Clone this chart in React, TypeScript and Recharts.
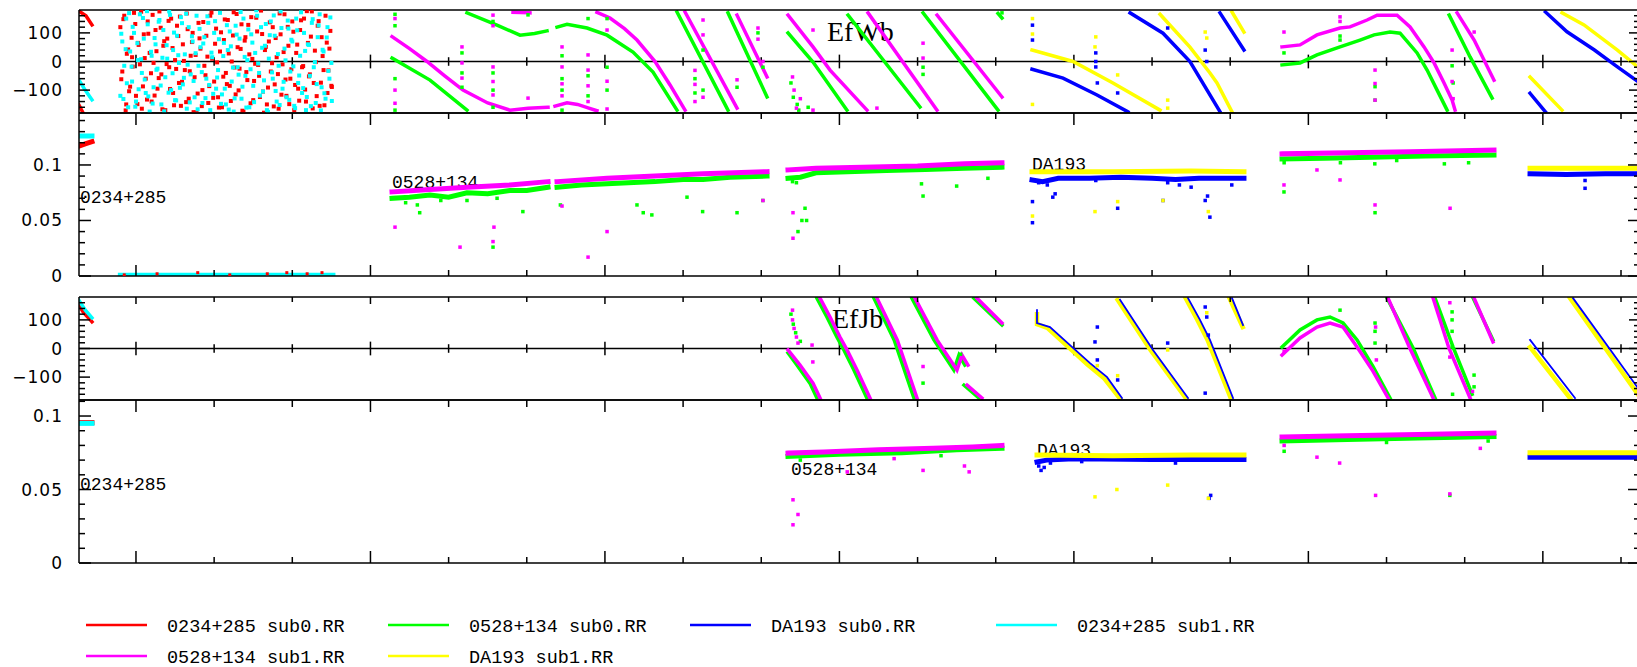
import React from "react";
import { ComposedChart, Line, Scatter, XAxis, YAxis, ReferenceLine } from "recharts";

type Pt = [number, number];
type Seg = Pt[];

// ---------- series names / colours ----------
const seriesNames = [
  "0234+285 sub0.RR",
  "0528+134 sub0.RR",
  "DA193 sub0.RR",
  "0234+285 sub1.RR",
  "0528+134 sub1.RR",
  "DA193 sub1.RR",
];
const RED = "#ff0000";
const GREEN = "#00ff00";
const BLUE = "#0000ff";
const CYAN = "#00ffff";
const MAGENTA = "#ff00ff";
const YELLOW = "#ffff00";
const seriesColors = [RED, GREEN, BLUE, CYAN, MAGENTA, YELLOW];

// ---------- axes ----------
const xDomain: [number, number] = [0.271, 20.243];
const xTicks = [1, 2, 3, 4, 5, 6, 7, 8, 9, 10, 11, 12, 13, 14, 15, 16, 17, 18, 19, 20];
const xMajorTicks = [1, 4, 7, 10, 13, 16, 19];
const phaseTicks = [-160, -140, -120, -100, -80, -60, -40, -20, 0, 20, 40, 60, 80, 100, 120, 140, 160];
const phaseLabels: Record<string, string> = { "100": "100", "0": "0", "-100": "\u2212100" };
const ampTicksWb = [0, 0.01, 0.02, 0.03, 0.04, 0.05, 0.06, 0.07, 0.08, 0.09, 0.1, 0.11, 0.12, 0.13, 0.14];
const ampTicksJb = [0, 0.01, 0.02, 0.03, 0.04, 0.05, 0.06, 0.07, 0.08, 0.09, 0.1, 0.11];
const ampLabels: Record<string, string> = { "0": "0", "0.05": "0.05", "0.1": "0.1" };

// ---------- 0234+285 noisy scan (EfWb) ----------
const noiseTimes = [
  0.8, 0.825, 0.85, 0.875, 0.9, 0.925, 0.95, 0.975, 1, 1.025,
  1.05, 1.075, 1.1, 1.125, 1.15, 1.175, 1.2, 1.225, 1.25, 1.275,
  1.3, 1.325, 1.35, 1.375, 1.4, 1.425, 1.45, 1.475, 1.5, 1.525,
  1.55, 1.575, 1.6, 1.625, 1.65, 1.675, 1.7, 1.725, 1.75, 1.775,
  1.8, 1.825, 1.85, 1.875, 1.9, 1.925, 1.95, 1.975, 2, 2.025,
  2.05, 2.075, 2.1, 2.125, 2.15, 2.175, 2.2, 2.225, 2.25, 2.275,
  2.3, 2.325, 2.35, 2.375, 2.4, 2.425, 2.45, 2.475, 2.5, 2.525,
  2.55, 2.575, 2.6, 2.625, 2.65, 2.675, 2.7, 2.725, 2.75, 2.775,
  2.8, 2.825, 2.85, 2.875, 2.9, 2.925, 2.95, 2.975, 3, 3.025,
  3.05, 3.075, 3.1, 3.125, 3.15, 3.175, 3.2, 3.225, 3.25, 3.275,
  3.3, 3.325, 3.35, 3.375, 3.4, 3.425, 3.45, 3.475, 3.5,
];
const noiseRedPhase = [
  120, -35, 160, -150, 42, -88, 15, 170, -120, 65,
  -10, -165, 95, -60, 140, 30, -140, -5, 110, -95,
  175, -45, 55, -170, 80, -20, 150, -110, 5, 125,
  -75, -155, 60, -30, 168, -130, 20, 100, -55, -178,
  135, 45, -100, -15, 90, -145, 160, 10, -70, 115,
  -125, 35, -160, 75, -40, 145, -85, 0, 172, -115,
  50, -25, 130, -175, 85, -65, 25, 155, -135, -8,
  105, -50, 178, -105, 40, -150, 70, -35, 120, -80,
  15, -165, 95, -10, 165, -120, 55, -60, 140, -170,
  30, -95, 110, -20, 150, -140, 65, -45, 175, -75,
  -2, 125, -155, 85, -30, 160, -110, 45, -85,
];
const noiseCyanPhase = [
  -120, 70, -15, 150, -160, 35, -70, 100, -140, 5,
  165, -40, 80, -110, 130, -175, 20, -90, 60, -25,
  145, -150, 110, -55, 10, 175, -100, 40, -135, 90,
  -5, 155, -80, 25, -165, 120, -45, 70, -125, 160,
  -15, 50, -145, 85, -60, 135, -170, 15, 100, -95,
  -30, 170, -115, 65, -150, 40, 105, -70, -175, 125,
  -20, 80, -130, 150, -50, 5, -160, 95, -85, 30,
  160, -40, 120, -105, 55, -170, 10, 140, -60, 90,
  -140, -15, 175, -95, 45, -125, 115, -35, 70, -155,
  150, -75, 20, -110, 100, -170, 60, -50, 135, -20,
  -145, 85, 165, -90, 35, -130, 120, -60, -5,
];
const noiseTimes2 = [
  0.812, 0.839, 0.868, 0.883, 0.912, 0.944, 0.958, 0.991, 1.018, 1.034,
  1.066, 1.089, 1.112, 1.141, 1.158, 1.192, 1.213, 1.238, 1.262, 1.291,
  1.316, 1.338, 1.361, 1.392, 1.417, 1.436, 1.468, 1.487, 1.514, 1.541,
  1.562, 1.589, 1.613, 1.642, 1.661, 1.688, 1.716, 1.737, 1.763, 1.789,
  1.813, 1.842, 1.861, 1.889, 1.914, 1.937, 1.966, 1.988, 2.012, 2.038,
  2.061, 2.088, 2.117, 2.136, 2.163, 2.187, 2.214, 2.241, 2.262, 2.288,
  2.313, 2.339, 2.362, 2.391, 2.412, 2.437, 2.466, 2.489, 2.511, 2.539,
  2.563, 2.586, 2.614, 2.638, 2.661, 2.689, 2.712, 2.741, 2.763, 2.787,
  2.816, 2.838, 2.861, 2.889, 2.913, 2.942, 2.961, 2.988, 3.014, 3.036,
  3.063, 3.088, 3.112, 3.139, 3.164, 3.186, 3.213, 3.238, 3.261, 3.289,
  3.312, 3.337, 3.366, 3.388, 3.411, 3.441, 3.462, 3.487, 3.506,
];
const noiseRedPhase2 = [
  -62, 148, -171, 27, -104, 83, -18, 131, -149, 58,
  174, -87, 12, -133, 97, -41, 163, -119, 36, -58,
  118, -167, 71, -9, 142, -96, 47, -153, -26, 89,
  157, -71, 2, -142, 113, -34, 68, -177, 23, -112,
  81, -156, 138, -48, 17, -86, 171, -127, 62, -3,
  -161, 102, -53, 147, -79, 28, -138, 91, -21, 166,
  -101, 44, -172, 73, -37, 128, -146, 9, -68, 153,
  -12, -124, 96, -179, 51, -91, 137, -6, -157, 82,
  -44, 168, -116, 33, -63, 121, -149, -27, 104, -82,
  59, -137, 144, -16, -98, 176, -52, 87, -164, 38,
  -121, 141, -74, 19, -153, 66, -31, 107, -89,
];
const noiseCyanPhase2 = [
  97, -131, 43, -76, 169, -18, 121, -158, 64, -97,
  8, 152, -63, 176, -122, 34, -147, 82, -29, 139,
  -84, 13, -174, 57, -109, 163, -41, 101, -136, 22,
  -92, 134, -57, 167, -11, -143, 88, -68, 29, -167,
  114, -37, 63, -128, 158, -82, 31, -113, 141, -56,
  78, -148, 19, -95, 127, -168, 53, -21, -129, 94,
  -46, 173, -88, 16, -161, 112, -27, 66, -142, 179,
  -7, -119, 48, -66, 131, -176, 92, -38, 161, -103,
  26, -152, 117, -71, 4, 143, -134, 76, -17, -163,
  109, -49, 172, -93, 37, -124, 58, -156, 148, -2,
  -79, 126, -171, 41, -111, 84, -33, 154, -138,
];

// ---------- EfWb phase ----------
const wbRedPhase: Seg[] = [
  [[0.271, -152], [0.322, -179]],
  [[0.271, 176], [0.36, 160], [0.437, 128]],
];
const wbCyanPhase: Seg[] = [[[0.271, -65], [0.35, -100], [0.437, -134]]];
const wbGreenPhase: Seg[] = [
  [[4.276, 12], [4.762, -65], [5.235, -170]],
  [[5.235, 170], [5.619, 127], [5.913, 92], [6.1, 98], [6.259, 107]],
  [[6.387, 120], [6.515, 130], [6.771, 117], [7.027, 92], [7.359, 33], [7.615, -37], [7.922, -170]],
  [[7.922, 173], [8.574, -170]],
  [[8.574, 170], [9.074, -124]],
  [[9.342, 100], [9.662, -2], [10.097, -170]],
  [[10.11, 162], [11.031, -159]],
  [[11.07, 170], [12.029, -170]],
  [[12.029, 168], [12.08, 152]],
  [[15.663, -12], [15.893, -5], [16.11, 23], [16.405, 51], [16.661, 75], [16.841, 93], [17.045, 103], [17.173, 99], [17.391, 30], [17.519, -30], [17.647, -100], [17.775, -170]],
  [[17.801, 162], [18.069, 16], [18.351, -128]],
];
const wbMagentaPhase: Seg[] = [
  [[4.276, 87], [4.5, 45], [4.723, 0], [4.95, -50], [5.184, -100], [5.5, -145], [5.785, -170], [6.016, -163], [6.272, -160]],
  [[5.824, 172], [6.041, 170]],
  [[6.361, -156], [6.515, -144], [6.65, -150], [6.784, -162], [6.898, -172]],
  [[6.898, 172], [7.065, 152], [7.25, 115], [7.41, 75], [7.641, 0], [7.833, -82], [8.025, -170]],
  [[8.025, 173], [8.69, -163]],
  [[8.69, 162], [9.074, -54]],
  [[9.342, 162], [9.662, 51], [9.88, -30], [10.353, -170]],
  [[10.366, 170], [11.249, -170]],
  [[11.249, 162], [12.08, -124]],
  [[15.663, 51], [15.893, 58], [16.11, 93], [16.405, 117], [16.533, 121], [16.751, 145], [16.879, 162], [17.135, 162], [17.301, 121], [17.48, 51], [17.608, -5], [17.736, -75], [17.839, -135], [17.877, -170]],
  [[17.903, 170], [18.121, 75], [18.375, -65]],
];
const wbBluePhase: Seg[] = [
  [[12.464, -27], [12.861, -58], [13.296, -117], [13.692, -176]],
  [[13.718, 170], [14.14, 99], [14.485, 0], [14.869, -175]],
  [[14.869, 170], [15.176, 40]],
  [[18.836, -111], [19.033, -176]],
  [[19.033, 173], [19.309, 104], [19.66, 40], [19.954, -19], [20.243, -75]],
];
const wbYellowPhase: Seg[] = [
  [[12.464, 40], [12.989, 0], [13.5, -75], [14.102, -170]],
  [[14.102, 165], [14.485, 50], [14.741, -40], [14.831, -75], [15.023, -176]],
  [[15.023, 173], [15.176, 103]],
  [[18.836, -54], [19.245, -170]],
  [[19.245, 170], [19.527, 128], [19.954, 40], [20.243, -25]],
];
const wbGreenPhaseOut: Pt[] = [
  [4.314, 165], [4.314, 125], [4.314, -60], [4.314, -170], [5.171, 30], [5.171, -40], [5.171, -90],
  [5.568, 140], [5.568, -40], [5.568, -100], [5.568, -160], [6.016, 163], [6.451, 20], [6.451, -60],
  [6.451, -100], [6.451, -170], [6.784, 150], [6.784, -50], [6.784, -120], [7.027, 150], [7.027, -20],
  [7.027, -100], [8.152, -60], [8.152, -110], [8.255, 40], [8.255, -100], [8.69, -90], [8.958, 100],
  [9.022, -20], [9.38, -75], [9.41, -125], [9.46, -150], [9.48, -170], [9.6, -160], [11.07, -20],
  [11.07, -45], [12.08, 170], [15.688, 30], [16.405, 89], [16.405, 75], [16.853, -88], [16.853, -135],
  [17.839, -15], [17.852, -75],
];
const wbMagentaPhaseOut: Pt[] = [
  [4.314, -100], [4.314, -146], [4.314, 150], [5.171, 51], [5.171, -5], [5.171, -58], [5.568, 162],
  [5.568, 125], [5.568, -19], [5.568, -70], [5.568, -117], [6.016, -128], [6.451, 51], [6.451, -19],
  [6.451, -78], [6.451, -120], [6.784, 23], [6.784, -30], [6.784, -85], [6.784, -140], [7.027, 110],
  [7.027, -69], [7.027, -166], [8.152, -31], [8.152, -80], [8.152, -140], [8.255, 145], [8.255, 93],
  [8.255, -125], [8.69, -64], [8.958, 117], [8.958, 78], [9.022, 0], [9.4, -54], [9.42, -100],
  [9.45, -163], [9.5, -130], [9.662, 110], [9.662, -170], [10.48, -163], [11.07, 64], [11.07, 12],
  [15.688, 103], [16.405, 156], [16.405, 140], [16.853, -30], [16.853, -77], [16.853, -135],
  [17.839, 40], [17.839, -70], [17.852, -130], [18.121, 103],
];
const wbBluePhaseOut: Pt[] = [
  [12.47, 127], [12.47, 75], [13.28, 30], [13.28, 0], [13.28, -19], [13.3, -75], [13.56, -110],
  [14.2, 117], [14.68, 40], [14.7, 0],
];
const wbYellowPhaseOut: Pt[] = [
  [12.47, 150], [12.47, 96], [12.47, -150], [13.27, 51], [13.28, 86], [13.56, -47], [14.2, -135],
  [14.2, -163], [14.68, 103], [14.7, 82],
];

// ---------- EfWb amplitude ----------
const wbRedAmp: Seg[] = [[[0.271, 0.117], [0.35, 0.119], [0.437, 0.121]]];
const wbRedAmpOut: Pt[] = [
  [0.85, 0.001], [1.27, 0.002], [1.79, 0.003], [2.2, 0.001], [2.68, 0.002], [2.93, 0.003], [3.19, 0.002], [3.38, 0.003],
];
const wbCyanAmp: Seg[] = [
  [[0.271, 0.126], [0.437, 0.126]],
  [[0.8, 0.0006], [3.52, 0.0006]],
];
const wbGreenAmp: Seg[] = [
  [[4.276, 0.07], [4.5, 0.071], [4.762, 0.073], [5.0, 0.071], [5.235, 0.075], [5.5, 0.074], [5.785, 0.077], [6.0, 0.077], [6.272, 0.08]],
  [[6.387, 0.08], [6.7, 0.082], [7.027, 0.083], [7.3, 0.084], [7.641, 0.085], [8.0, 0.087], [8.255, 0.087], [8.6, 0.089], [9.074, 0.09]],
  [[9.342, 0.088], [9.5, 0.089], [9.7, 0.093], [10.1, 0.094], [10.6, 0.095], [11.1, 0.096], [11.6, 0.097], [12.08, 0.098]],
  [[15.663, 0.1054], [16.2, 0.106], [16.8, 0.107], [17.5, 0.108], [18.375, 0.109]],
];
const wbMagentaAmp: Seg[] = [
  [[4.276, 0.0757], [4.762, 0.078], [5.235, 0.08], [5.785, 0.082], [6.272, 0.085]],
  [[6.387, 0.085], [7.027, 0.088], [7.641, 0.09], [8.255, 0.092], [9.074, 0.094]],
  [[9.342, 0.0955], [9.7, 0.097], [10.3, 0.098], [11.0, 0.099], [11.6, 0.101], [12.08, 0.102]],
  [[15.663, 0.11], [16.5, 0.111], [17.3, 0.112], [18.375, 0.1135]],
];
const wbBlueAmp: Seg[] = [
  [[12.464, 0.0865], [12.6, 0.085], [12.8, 0.088], [13.2, 0.088], [13.6, 0.089], [14.0, 0.088], [14.3, 0.087], [14.6, 0.088], [15.176, 0.088]],
  [[18.836, 0.092], [19.3, 0.0915], [19.8, 0.092], [20.243, 0.092]],
];
const wbYellowAmp: Seg[] = [
  [[12.464, 0.094], [13.5, 0.094], [14.5, 0.0945], [15.176, 0.094]],
  [[18.836, 0.097], [20.243, 0.097]],
];
const wbGreenAmpOut: Pt[] = [
  [4.45, 0.066], [4.6, 0.064], [4.63, 0.057], [4.9, 0.068], [5.235, 0.068], [5.568, 0.026], [5.62, 0.07],
  [5.95, 0.058], [6.43, 0.064], [7.41, 0.064], [7.49, 0.057], [7.6, 0.055], [8.05, 0.071], [8.25, 0.058],
  [8.69, 0.057], [9.02, 0.068], [9.4, 0.085], [9.45, 0.084], [9.47, 0.04], [9.52, 0.05], [9.56, 0.061],
  [9.58, 0.05], [11.05, 0.083], [11.07, 0.072], [11.5, 0.081], [11.9, 0.088], [15.69, 0.102],
  [15.688, 0.0757], [16.41, 0.102], [16.85, 0.101], [16.853, 0.057], [17.13, 0.104], [17.74, 0.101],
  [18.05, 0.102],
];
const wbMagentaAmpOut: Pt[] = [
  [4.314, 0.044], [5.146, 0.026], [5.568, 0.031], [5.58, 0.044], [6.451, 0.063], [6.784, 0.017],
  [7.027, 0.04], [9.022, 0.068], [9.406, 0.057], [9.406, 0.034], [15.688, 0.082], [16.11, 0.0955],
  [16.405, 0.0865], [16.853, 0.064], [17.813, 0.061],
];
const wbBlueAmpOut: Pt[] = [
  [12.47, 0.067], [12.47, 0.048], [12.55, 0.084], [12.66, 0.082], [12.73, 0.071], [12.76, 0.074],
  [13.28, 0.086], [13.56, 0.061], [14.14, 0.068], [14.2, 0.084], [14.35, 0.082], [14.5, 0.08],
  [14.68, 0.068], [14.71, 0.072], [14.74, 0.053], [15.02, 0.082], [19.54, 0.086], [19.54, 0.079],
];
const wbYellowAmpOut: Pt[] = [
  [12.47, 0.054], [13.27, 0.058], [13.56, 0.067], [14.14, 0.068], [14.72, 0.058],
];

// ---------- EfJb phase ----------
const jbRedPhase: Seg[] = [[[0.271, 150], [0.33, 125], [0.4, 105], [0.437, 93]]];
const jbCyanPhase: Seg[] = [[[0.271, 168], [0.35, 135], [0.437, 107]]];
const jbGreenPhase: Seg[] = [
  [[9.342, -15], [9.456, -58], [9.622, -121], [9.712, -173]],
  [[9.712, 176], [9.84, 110], [9.967, 40], [10.057, -5], [10.185, -75], [10.351, -173]],
  [[10.441, 176], [10.7, 30], [10.953, -173]],
  [[10.927, 176], [11.209, 30], [11.464, -75], [11.529, -23], [11.605, -58]],
  [[11.593, -128], [11.784, -173]],
  [[11.72, 176], [12.08, 82]],
  [[15.663, 5], [15.893, 65], [16.11, 100], [16.277, 110], [16.443, 89], [16.623, 30], [16.828, -63], [17.045, -173]],
  [[17.007, 176], [17.34, 2], [17.621, -173]],
  [[17.621, 176], [17.852, 5], [18.095, -160]],
  [[18.108, 176], [18.362, 30]],
];
const jbMagentaPhase: Seg[] = [
  [[9.342, -5], [9.496, -58], [9.662, -121], [9.752, -173]],
  [[9.752, 176], [9.88, 110], [10.007, 40], [10.097, -5], [10.225, -75], [10.391, -173]],
  [[10.481, 176], [10.74, 30], [10.993, -173]],
  [[10.967, 176], [11.249, 30], [11.504, -75], [11.569, -23], [11.645, -58]],
  [[11.633, -128], [11.824, -173]],
  [[11.76, 176], [12.08, 89]],
  [[15.663, -23], [15.893, 37], [16.11, 75], [16.277, 89], [16.443, 75], [16.623, 5], [16.828, -80], [17.02, -173]],
  [[17.02, 176], [17.3, 0], [17.596, -173]],
  [[17.596, 176], [17.8, 0], [18.069, -173]],
  [[18.121, 176], [18.362, 23]],
];
const jbBluePhase: Seg[] = [
  [[12.528, 134], [12.528, 89], [12.694, 75], [12.95, 12], [13.206, -51], [13.424, -100], [13.615, -173]],
  [[13.59, 170], [14.012, -5], [14.46, -173]],
  [[14.46, 176], [14.613, 100], [14.741, 30], [15.036, -173]],
  [[15.023, 176], [15.164, 82]],
  [[18.836, 30], [19.411, -173]],
  [[19.386, 176], [20.243, -148]],
];
const jbYellowPhase: Seg[] = [
  [[12.528, 120], [12.528, 85], [12.66, 72], [12.92, 8], [13.17, -55], [13.39, -105], [13.585, -173]],
  [[13.56, 170], [13.98, -5], [14.43, -173]],
  [[14.43, 176], [14.58, 100], [14.71, 30], [15.006, -173]],
  [[14.99, 176], [15.16, 75]],
  [[18.836, 5], [19.347, -173]],
  [[19.347, 176], [20.243, -171]],
];
const jbGreenPhaseOut: Pt[] = [
  [9.38, 120], [9.41, 85], [9.44, 55], [9.5, 25], [11.07, -121], [11.55, -20], [16.405, 134],
  [16.853, 89], [16.853, 60], [16.853, 19], [17.839, 128], [17.839, 100], [17.839, 60], [17.839, 5],
  [17.845, -160], [18.12, -93], [18.12, -134],
];
const jbMagentaPhaseOut: Pt[] = [
  [9.4, 134], [9.4, 100], [9.42, 70], [9.45, 40], [9.47, 19], [9.65, 12], [9.66, -47], [11.07, -63],
  [15.69, -10], [16.86, 75], [16.87, -40], [17.81, 160], [17.81, -30], [18.1, -150],
];
const jbBluePhaseOut: Pt[] = [
  [13.3, 75], [13.27, 23], [13.3, -40], [13.56, -110], [14.2, 19], [14.68, 145], [14.7, 110],
  [14.68, -156], [14.72, 47],
];
const jbYellowPhaseOut: Pt[] = [[13.3, -60], [13.56, -95], [14.2, -5], [14.7, 125]];

// ---------- EfJb amplitude ----------
const jbRedAmp: Seg[] = [[[0.271, 0.0955], [0.437, 0.0955]]];
const jbCyanAmp: Seg[] = [[[0.271, 0.095], [0.437, 0.095]]];
const jbGreenAmp: Seg[] = [
  [[9.342, 0.0725], [10.0, 0.074], [10.8, 0.075], [11.5, 0.077], [12.08, 0.078]],
  [[15.663, 0.083], [16.5, 0.084], [17.4, 0.085], [18.375, 0.086]],
];
const jbMagentaAmp: Seg[] = [
  [[9.342, 0.0748], [9.8, 0.0755], [10.5, 0.077], [11.2, 0.078], [11.7, 0.079], [12.08, 0.08]],
  [[15.663, 0.0857], [16.5, 0.0865], [17.4, 0.0875], [18.375, 0.0884]],
];
const jbBlueAmp: Seg[] = [
  [[12.528, 0.0687], [12.65, 0.07], [13.0, 0.071], [14.0, 0.0705], [15.176, 0.0705]],
  [[18.836, 0.072], [20.243, 0.072]],
];
const jbYellowAmp: Seg[] = [
  [[12.528, 0.0735], [13.5, 0.073], [14.5, 0.0735], [15.176, 0.0735]],
  [[18.836, 0.075], [20.243, 0.075]],
];
const jbGreenAmpOut: Pt[] = [[9.5, 0.07], [11.3, 0.073], [15.69, 0.076], [17.0, 0.082], [17.81, 0.046], [18.3, 0.083]];
const jbMagentaAmpOut: Pt[] = [
  [9.406, 0.043], [9.47, 0.033], [9.406, 0.026], [10.1, 0.062], [10.7, 0.071], [11.07, 0.063],
  [11.6, 0.066], [11.66, 0.062], [15.69, 0.08], [16.11, 0.072], [16.4, 0.068], [16.86, 0.046],
  [17.81, 0.047], [18.2, 0.078],
];
const jbBlueAmpOut: Pt[] = [
  [12.55, 0.066], [12.58, 0.063], [12.62, 0.065], [12.7, 0.068], [13.1, 0.069], [14.3, 0.068],
  [14.73, 0.044], [14.75, 0.046],
];
const jbYellowAmpOut: Pt[] = [[13.27, 0.045], [13.55, 0.05], [14.2, 0.053], [14.72, 0.044]];

// ---------- text ----------
const panelTexts = [
  { t: "EfWb", x: 827, y: 41, serif: true },
  { t: "EfJb", x: 832, y: 328, serif: true },
  { t: "0234+285", x: 80, y: 203 },
  { t: "0528+134", x: 392, y: 188 },
  { t: "DA193", x: 1032, y: 170 },
  { t: "0234+285", x: 80, y: 490 },
  { t: "0528+134", x: 791, y: 475 },
  { t: "DA193", x: 1037, y: 456 },
];

// ---------- helpers ----------
const W = 1641;
const H = 667;
const MONO = "'Liberation Mono', 'DejaVu Sans Mono', monospace";

const flatten = (segs: Seg[]) =>
  segs.flatMap((s, i) => [
    ...(i > 0 ? [{ x: s[0][0], y: null as number | null }] : []),
    ...s.map(([x, y]) => ({ x, y: y as number | null })),
  ]);
const toPts = (pts: Pt[]) => pts.map(([x, y]) => ({ x, y }));
const zip = (xs: number[], ys: number[]): Pt[] => xs.map((t, i) => [t, ys[i]] as Pt).filter((p) => p[1] !== undefined);

const square = (color: string, s: number) => (p: any) =>
  p.cx == null ? <g /> : <rect x={p.cx - s / 2} y={p.cy - s / 2} width={s} height={s} fill={color} />;

const xTick = (big: number, small: number, dir: number) => (p: any) => {
  const l = xMajorTicks.includes(p.payload.value) ? big : small;
  return <line x1={p.x} x2={p.x} y1={p.y} y2={p.y + dir * l} stroke="#000" strokeWidth={1.5} />;
};

const yTick = (labels: Record<string, string>, big: number, small: number, dir: number, showLabel: boolean) => (p: any) => {
  const lab = labels[String(p.payload.value)];
  const l = lab !== undefined ? big : small;
  return (
    <g>
      <line x1={p.x} x2={p.x + dir * l} y1={p.y} y2={p.y} stroke="#000" strokeWidth={1.5} />
      {showLabel && lab !== undefined && (
        <text x={p.x - 16} y={p.y} textAnchor="end" dominantBaseline="central" fontFamily="'DejaVu Sans', sans-serif" fontSize={17} letterSpacing={1} fill="#000">
          {lab}
        </text>
      )}
    </g>
  );
};

type Layer = { kind: "line"; segs: Seg[]; color: string; w: number } | { kind: "dots"; pts: Pt[]; color: string; s: number };

type PanelProps = {
  top: number;
  bottom: number;
  yDomain: [number, number];
  yTicks: number[];
  yLabels: Record<string, string>;
  yBig: number;
  ySmall: number;
  topTicks: [number, number] | null;
  bottomTicks: [number, number] | null;
  zero: boolean;
  layers: Layer[];
};

function Panel({ top, bottom, yDomain, yTicks, yLabels, yBig, ySmall, topTicks, bottomTicks, zero, layers }: PanelProps) {
  const axisLine = { stroke: "#000", strokeWidth: 1.5 };
  const zeroTickDeg = 24;
  return (
    <div style={{ position: "absolute", left: 0, top: 0 }}>
      <ComposedChart width={W} height={H} margin={{ top: top - 1, right: 0, bottom: H - bottom - 1, left: 0 }}>
        <XAxis xAxisId="b" dataKey="x" type="number" orientation="bottom" domain={xDomain} ticks={xTicks} interval={0}
          allowDataOverflow height={1} tickSize={0} tickMargin={0} tickLine={false} axisLine={axisLine}
          tick={bottomTicks ? xTick(bottomTicks[0], bottomTicks[1], -1) : false} />
        <XAxis xAxisId="t" dataKey="x" type="number" orientation="top" domain={xDomain} ticks={xTicks} interval={0}
          allowDataOverflow height={1} tickSize={0} tickMargin={0} tickLine={false} axisLine={axisLine}
          tick={topTicks ? xTick(topTicks[0], topTicks[1], 1) : false} />
        <YAxis yAxisId="l" dataKey="y" type="number" domain={yDomain} ticks={yTicks} interval={0} allowDataOverflow
          width={79} tickSize={0} tickMargin={0} tickLine={false} axisLine={axisLine}
          tick={yTick(yLabels, yBig, ySmall, 1, true)} />
        <YAxis yAxisId="r" dataKey="y" type="number" orientation="right" domain={yDomain} ticks={yTicks} interval={0}
          allowDataOverflow width={1} tickSize={0} tickMargin={0} tickLine={false} axisLine={axisLine}
          tick={yTick(yLabels, yBig, ySmall, -1, false)} />
        {zero && <ReferenceLine xAxisId="b" yAxisId="l" y={0} stroke="#000" strokeWidth={1.5} />}
        {zero &&
          xTicks.map((t) => {
            const d = xMajorTicks.includes(t) ? zeroTickDeg : 15;
            return (
              <ReferenceLine key={"z" + t} xAxisId="b" yAxisId="l" segment={[{ x: t, y: -d }, { x: t, y: d }]}
                stroke="#000" strokeWidth={1.5} />
            );
          })}
        {layers.map((ly, i) =>
          ly.kind === "line" ? (
            <Line key={"l" + i} xAxisId="b" yAxisId="l" data={flatten(ly.segs)} dataKey="y" stroke={ly.color}
              strokeWidth={ly.w} dot={false} activeDot={false} isAnimationActive={false} connectNulls={false}
              strokeLinecap="square" />
          ) : (
            <Scatter key={"d" + i} xAxisId="b" yAxisId="l" data={toPts(ly.pts)} dataKey="y" fill={ly.color}
              shape={square(ly.color, ly.s)} isAnimationActive={false} />
          )
        )}
      </ComposedChart>
    </div>
  );
}

const PW = 3.5; // phase track width
const AW = 5; // amplitude band width

const noiseRedPts: Pt[] = [...zip(noiseTimes, noiseRedPhase), ...zip(noiseTimes2, noiseRedPhase2)];
const noiseCyanPts: Pt[] = [...zip(noiseTimes, noiseCyanPhase), ...zip(noiseTimes2, noiseCyanPhase2)];

const wbPhaseLayers: Layer[] = [
  { kind: "line", segs: wbRedPhase, color: RED, w: PW },
  { kind: "dots", pts: noiseRedPts, color: RED, s: 4 },
  { kind: "line", segs: wbGreenPhase, color: GREEN, w: PW },
  { kind: "dots", pts: wbGreenPhaseOut, color: GREEN, s: 3.5 },
  { kind: "line", segs: wbBluePhase, color: BLUE, w: PW },
  { kind: "dots", pts: wbBluePhaseOut, color: BLUE, s: 3.5 },
  { kind: "line", segs: wbCyanPhase, color: CYAN, w: PW },
  { kind: "dots", pts: noiseCyanPts, color: CYAN, s: 4 },
  { kind: "line", segs: wbMagentaPhase, color: MAGENTA, w: PW },
  { kind: "dots", pts: wbMagentaPhaseOut, color: MAGENTA, s: 3.5 },
  { kind: "line", segs: wbYellowPhase, color: YELLOW, w: PW },
  { kind: "dots", pts: wbYellowPhaseOut, color: YELLOW, s: 3.5 },
];
const wbAmpLayers: Layer[] = [
  { kind: "line", segs: wbRedAmp, color: RED, w: AW },
  { kind: "dots", pts: wbRedAmpOut, color: RED, s: 3 },
  { kind: "line", segs: wbGreenAmp, color: GREEN, w: AW },
  { kind: "dots", pts: wbGreenAmpOut, color: GREEN, s: 3.5 },
  { kind: "line", segs: wbBlueAmp, color: BLUE, w: AW },
  { kind: "dots", pts: wbBlueAmpOut, color: BLUE, s: 3.5 },
  { kind: "line", segs: wbCyanAmp, color: CYAN, w: AW },
  { kind: "line", segs: wbMagentaAmp, color: MAGENTA, w: AW },
  { kind: "dots", pts: wbMagentaAmpOut, color: MAGENTA, s: 3.5 },
  { kind: "line", segs: wbYellowAmp, color: YELLOW, w: AW },
  { kind: "dots", pts: wbYellowAmpOut, color: YELLOW, s: 3.5 },
];
const jbPhaseLayers: Layer[] = [
  { kind: "line", segs: jbRedPhase, color: RED, w: PW },
  { kind: "line", segs: jbGreenPhase, color: GREEN, w: PW },
  { kind: "dots", pts: jbGreenPhaseOut, color: GREEN, s: 3.5 },
  { kind: "line", segs: jbCyanPhase, color: CYAN, w: PW },
  { kind: "line", segs: jbMagentaPhase, color: MAGENTA, w: PW },
  { kind: "dots", pts: jbMagentaPhaseOut, color: MAGENTA, s: 3.5 },
  { kind: "line", segs: jbYellowPhase, color: YELLOW, w: 4.5 },
  { kind: "dots", pts: jbYellowPhaseOut, color: YELLOW, s: 3.5 },
  { kind: "line", segs: jbBluePhase, color: BLUE, w: 1.8 },
  { kind: "dots", pts: jbBluePhaseOut, color: BLUE, s: 3.5 },
];
const jbAmpLayers: Layer[] = [
  { kind: "line", segs: jbRedAmp, color: RED, w: AW },
  { kind: "line", segs: jbGreenAmp, color: GREEN, w: AW },
  { kind: "dots", pts: jbGreenAmpOut, color: GREEN, s: 3.5 },
  { kind: "line", segs: jbBlueAmp, color: BLUE, w: AW },
  { kind: "dots", pts: jbBlueAmpOut, color: BLUE, s: 3.5 },
  { kind: "line", segs: jbCyanAmp, color: CYAN, w: AW },
  { kind: "line", segs: jbMagentaAmp, color: MAGENTA, w: AW },
  { kind: "dots", pts: jbMagentaAmpOut, color: MAGENTA, s: 3.5 },
  { kind: "line", segs: jbYellowAmp, color: YELLOW, w: AW },
  { kind: "dots", pts: jbYellowAmpOut, color: YELLOW, s: 3.5 },
];

const legendCols = [86, 388, 690, 996];
const legendRows = [625, 656];

function Annotations() {
  return (
    <svg width={1637} height={667} style={{ position: "absolute", left: 0, top: 0 }}>
      {panelTexts.map((p, i) => (
        <text key={i} x={p.x} y={p.y} fontFamily={p.serif ? "'Liberation Serif', serif" : MONO}
          fontSize={p.serif ? 28 : 18} fill="#000">
          {p.t}
        </text>
      ))}
      {seriesNames.map((name, i) => {
        const x = legendCols[i % 4];
        const y = legendRows[Math.floor(i / 4)];
        return (
          <g key={name}>
            <line x1={x} x2={x + 61} y1={y} y2={y} stroke={seriesColors[i]} strokeWidth={2.5} />
            <text x={x + 81} y={y + 6.5} fontFamily={MONO} fontSize={18.5} fill="#000">
              {name}
            </text>
          </g>
        );
      })}
    </svg>
  );
}

export default function App() {
  return (
    <div style={{ position: "absolute", left: 0, top: 0, width: 1637, height: 667, overflow: "hidden", background: "#fff" }}>
      <Annotations />
      <Panel top={10} bottom={113} yDomain={[-180, 180]} yTicks={phaseTicks} yLabels={phaseLabels} yBig={11} ySmall={6}
        topTicks={null} bottomTicks={null} zero layers={wbPhaseLayers} />
      <Panel top={113} bottom={276} yDomain={[0, 0.1468]} yTicks={ampTicksWb} yLabels={ampLabels} yBig={12} ySmall={6}
        topTicks={[12, 6]} bottomTicks={[11, 6]} zero={false} layers={wbAmpLayers} />
      <Panel top={297} bottom={400} yDomain={[-180, 180]} yTicks={phaseTicks} yLabels={phaseLabels} yBig={11} ySmall={6}
        topTicks={[7, 5]} bottomTicks={null} zero layers={jbPhaseLayers} />
      <Panel top={400} bottom={563} yDomain={[0, 0.1109]} yTicks={ampTicksJb} yLabels={ampLabels} yBig={12} ySmall={6}
        topTicks={[12, 7]} bottomTicks={[12, 6]} zero={false} layers={jbAmpLayers} />
    </div>
  );
}
